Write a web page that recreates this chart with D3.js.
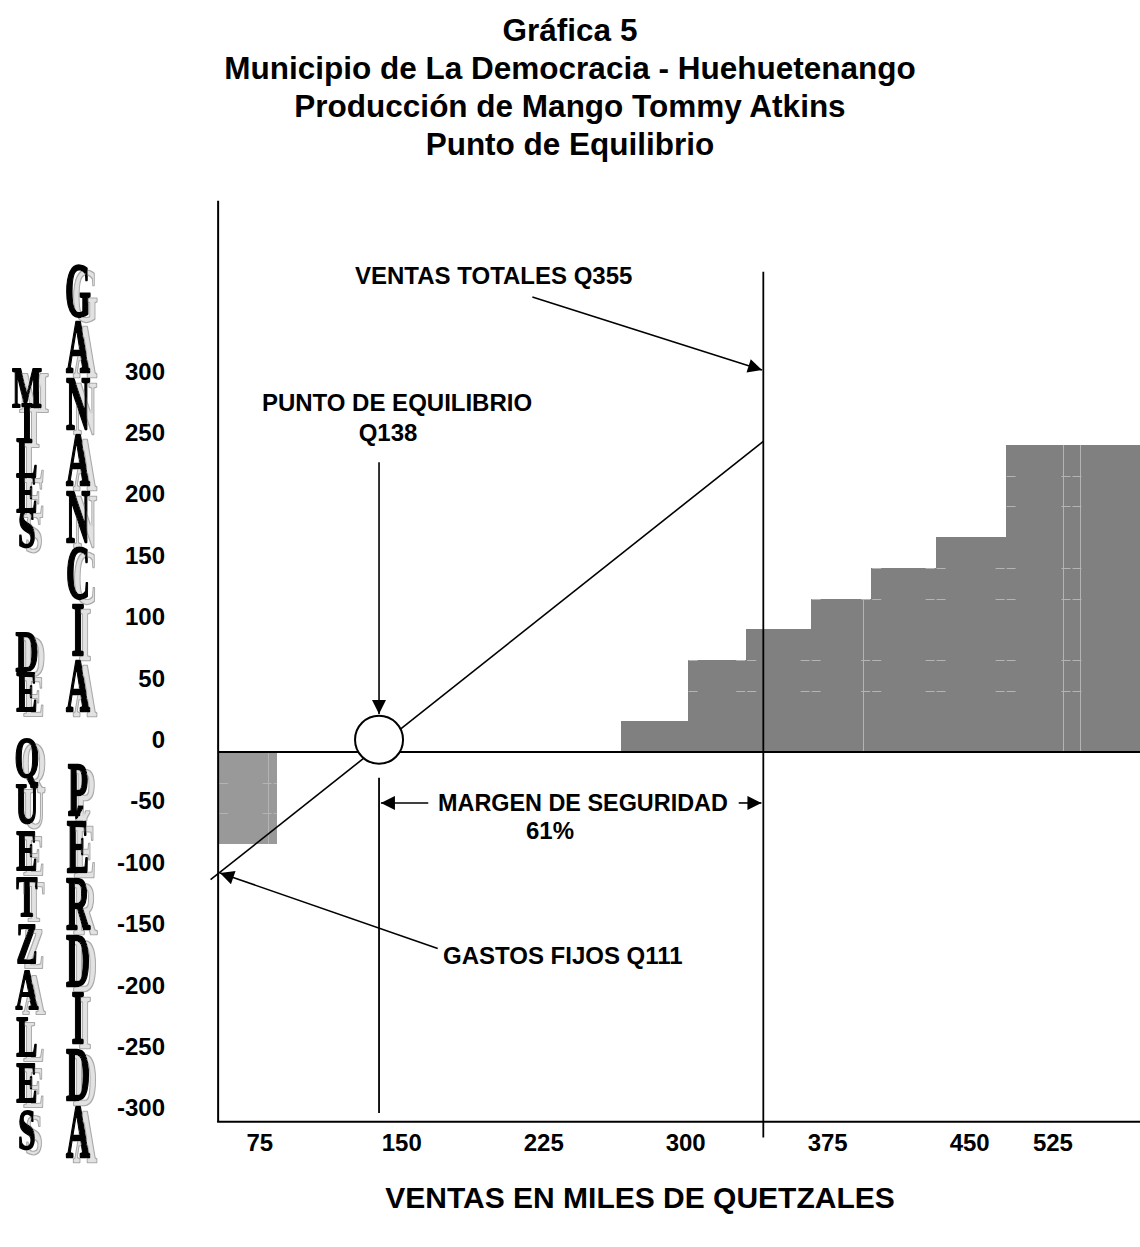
<!DOCTYPE html>
<html><head><meta charset="utf-8">
<script src="https://cdn.jsdelivr.net/npm/d3@7"></script>
<style>body{margin:0;background:#fff} svg{display:block}</style>
</head><body>
<script>
// ---------- data ----------
const titleLines = ["Gráfica 5", "Municipio de La Democracia - Huehuetenango", "Producción de Mango Tommy Atkins", "Punto de Equilibrio"];
const yTicks = [300, 250, 200, 150, 100, 50, 0, -50, -100, -150, -200, -250, -300];
const xTicks = [75, 150, 225, 300, 375, 450, 525];
const xTickPos = [75, 150, 225, 300, 375, 450, 494];   // where each label sits on the drawing
const profitStart = [266, 301, 332, 366, 398, 432, 469];
const profitEnd   = [301, 332, 366, 398, 432, 469, 540];
const profitValue = [25, 75, 100, 125, 150, 175, 250];
const lossStart = [53];
const lossEnd   = [84];
const lossValue = [-75];
const ghostGridValues = [225, 200, 150, 125, 75, 50, -25, -50];
const ghostVerticals = [[393.7, 125], [499.3, 250], [508.3, 250], [79.3, -75]];
const breakEvenX = 138;      // Q138
const breakEvenY = 10;
const salesX = 341;          // line labelled Q355 (position as read)
const costLineX = [49, 341];
const costLineY = [-104, 253];
const xMin = 53, xMax = 540, yTopAxis = 449, yBottom = -301;
const xAxisTitle = "VENTAS EN MILES DE QUETZALES";
const leftWords1 = ["MILES", "DE", "QUETZALES"];
const leftWords2 = ["GANANCIA", "PÉRDIDA"];

// ---------- setup ----------
const W = 1140, H = 1247;
const svg = d3.select("body").append("svg").attr("width", W).attr("height", H)
  .style("font-family", "'Liberation Sans', Arial, sans-serif");
const x = d3.scaleLinear().domain([0, 600]).range([117.8, 117.8 + 600 * 1.893]);
const y = d3.scaleLinear().domain([-300, 300]).range([752 + 300 * 1.228, 752 - 300 * 1.228]);
const X = v => Math.round(x(v));

const defs = svg.append("defs");
defs.append("marker").attr("id", "ah").attr("viewBox", "0 0 10 10")
  .attr("refX", 10).attr("refY", 5).attr("markerUnits", "userSpaceOnUse")
  .attr("markerWidth", 18).attr("markerHeight", 14).attr("orient", "auto-start-reverse")
  .append("path").attr("d", "M0,0 L10,5 L0,10 z").attr("fill", "#000");
const flt = defs.append("filter").attr("id", "shadow")
  .attr("x", "-30%").attr("y", "-5%").attr("width", "170%").attr("height", "115%");
flt.append("feOffset").attr("in", "SourceAlpha").attr("dx", 7).attr("dy", 5).attr("result", "off");
flt.append("feMorphology").attr("in", "off").attr("operator", "erode").attr("radius", 0.8).attr("result", "inner");
flt.append("feFlood").attr("flood-color", "#a9a9a9").attr("result", "c1");
flt.append("feComposite").attr("in", "c1").attr("in2", "off").attr("operator", "in").attr("result", "edge");
flt.append("feFlood").attr("flood-color", "#e2e2e2").attr("result", "c2");
flt.append("feComposite").attr("in", "c2").attr("in2", "inner").attr("operator", "in").attr("result", "fill");
const fm = flt.append("feMerge");
fm.append("feMergeNode").attr("in", "edge");
fm.append("feMergeNode").attr("in", "fill");
fm.append("feMergeNode").attr("in", "SourceGraphic");

// all bar rectangles (shared for the clip of ghost gridlines)
const allBars = profitValue.map((v, i) => ({s: profitStart[i], e: profitEnd[i], v, c: "#808080"}))
  .concat(lossValue.map((v, i) => ({s: lossStart[i], e: lossEnd[i], v, c: "#999999"})));
const rectAttrs = sel => sel
  .attr("x", d => X(d.s)).attr("width", d => X(d.e) - X(d.s))
  .attr("y", d => Math.round(y(Math.max(0, d.v))))
  .attr("height", d => Math.round(Math.abs(y(d.v) - y(0))));
defs.append("clipPath").attr("id", "barclip").selectAll("rect").data(allBars).join("rect").call(rectAttrs);

// title
svg.append("g").selectAll("text").data(titleLines).join("text")
  .attr("x", 570).attr("y", (d, i) => 41 + i * 38)
  .attr("text-anchor", "middle").attr("font-weight", "bold").attr("font-size", 31.5)
  .text(d => d);

// bars
const g = svg.append("g");
g.selectAll("rect.bar").data(allBars).join("rect").attr("class", "bar").call(rectAttrs)
  .attr("fill", d => d.c).attr("shape-rendering", "crispEdges");

// faint ghost gridlines inside bars
const ghost = g.append("g").attr("clip-path", "url(#barclip)").attr("stroke", "#b4b4b4").attr("stroke-width", 1);
const bounds = profitStart.slice(1).concat([503.8, 53, 79.3 + 2.5]);
const segs = [];
bounds.forEach(b => ghostGridValues.forEach(v => segs.push({b, v})));
ghost.selectAll("line.h").data(segs).join("line").attr("class", "h")
  .attr("x1", d => x(d.b) - 10).attr("x2", d => x(d.b) + 10)
  .attr("y1", d => Math.round(y(d.v)) + 0.5).attr("y2", d => Math.round(y(d.v)) + 0.5)
  .attr("stroke-dasharray", "9,2");
ghost.selectAll("line.v").data(ghostVerticals).join("line").attr("class", "v")
  .attr("x1", d => Math.round(x(d[0])) + 0.5).attr("x2", d => Math.round(x(d[0])) + 0.5)
  .attr("y1", d => y(d[1])).attr("y2", y(0));

// axes lines
g.append("line").attr("x1", x(xMin)).attr("x2", x(xMin)).attr("y1", y(yTopAxis)).attr("y2", y(yBottom))
  .attr("stroke", "#000").attr("stroke-width", 2);
g.append("line").attr("x1", x(xMin) - 1).attr("x2", x(xMax)).attr("y1", y(yBottom)).attr("y2", y(yBottom))
  .attr("stroke", "#000").attr("stroke-width", 2);
g.append("line").attr("x1", x(xMin)).attr("x2", x(xMax)).attr("y1", y(0)).attr("y2", y(0))
  .attr("stroke", "#000").attr("stroke-width", 2);

// y tick labels
svg.append("g").selectAll("text").data(yTicks).join("text")
  .attr("x", 165).attr("y", d => y(d) - 4).attr("text-anchor", "end")
  .attr("font-weight", "bold").attr("font-size", 24).text(d => d);
// x tick labels
svg.append("g").selectAll("text").data(xTicks).join("text")
  .attr("x", (d, i) => x(xTickPos[i])).attr("y", 1151).attr("text-anchor", "middle")
  .attr("font-weight", "bold").attr("font-size", 24).text(d => d);
svg.append("text").attr("x", 640).attr("y", 1208).attr("text-anchor", "middle")
  .attr("font-weight", "bold").attr("font-size", 30).text(xAxisTitle);

// cost/revenue line
g.append("line").attr("x1", x(costLineX[0])).attr("y1", y(costLineY[0]))
  .attr("x2", x(costLineX[1])).attr("y2", y(costLineY[1]))
  .attr("stroke", "#000").attr("stroke-width", 1.6);
// vertical lines
g.append("line").attr("x1", x(salesX)).attr("x2", x(salesX)).attr("y1", y(391)).attr("y2", y(-314))
  .attr("stroke", "#000").attr("stroke-width", 1.8);
g.append("line").attr("x1", x(breakEvenX)).attr("x2", x(breakEvenX)).attr("y1", y(-21)).attr("y2", y(-294))
  .attr("stroke", "#000").attr("stroke-width", 1.8);
// circle
g.append("circle").attr("cx", x(breakEvenX)).attr("cy", y(breakEvenY)).attr("r", 24)
  .attr("fill", "#fff").attr("stroke", "#000").attr("stroke-width", 2);

// arrows
const arrows = [
  [[138, 236], [138, 31]],
  [[219, 370.5], [340.3, 311]],
  [[169, -160], [54, -98.5]],
  [[164, -41.5], [139, -41.5]],
  [[328, -41.5], [340, -41.5]]
];
g.selectAll("line.arr").data(arrows).join("line").attr("class", "arr")
  .attr("x1", d => x(d[0][0])).attr("y1", d => y(d[0][1]))
  .attr("x2", d => x(d[1][0])).attr("y2", d => y(d[1][1]))
  .attr("stroke", "#000").attr("stroke-width", 1.6).attr("marker-end", "url(#ah)");

// annotation texts
const notes = [
  {t: "VENTAS TOTALES Q355", x: 355, y: 284, a: "start", s: 24},
  {t: "PUNTO DE EQUILIBRIO", x: 397, y: 411, a: "middle", s: 24},
  {t: "Q138", x: 388, y: 441, a: "middle", s: 24},
  {t: "MARGEN DE SEGURIDAD", x: 438, y: 811, a: "start", s: 23.4},
  {t: "61%", x: 550, y: 839, a: "middle", s: 24},
  {t: "GASTOS FIJOS Q111", x: 443, y: 964, a: "start", s: 24}
];
svg.append("g").selectAll("text").data(notes).join("text")
  .attr("x", d => d.x).attr("y", d => d.y).attr("text-anchor", d => d.a)
  .attr("font-weight", "bold").attr("font-size", d => d.s).text(d => d.t);

// vertical stacked letters (WordArt style, with offset shadow)
function column(words, cx, tops, steps, fs, sx, sy) {
  const letters = [];
  words.forEach((w, wi) => {
    Array.from(w).forEach((ch, i) => letters.push({ch, top: tops[wi] + i * steps[wi]}));
  });
  const cap = fs * 0.66 * sy;
  const gg = svg.append("g").attr("filter", "url(#shadow)")
    .attr("font-family", "'Liberation Serif', 'DejaVu Serif', serif")
    .attr("font-weight", "bold").attr("font-size", fs).attr("text-anchor", "middle");
  gg.selectAll("text").data(letters).join("text")
    .attr("transform", d => `translate(${cx},${d.top + cap}) scale(${sx},${sy})`)
    .attr("fill", "#000").attr("stroke", "#000").attr("stroke-width", 1.3)
    .attr("stroke-linejoin", "round").text(d => d.ch);
}
column(leftWords1, 27, [370, 634, 740], [35, 40, 46.5], 40, 0.8, 1.4);
column(leftWords2, 78, [265, 764], [56.5, 57], 44, 0.76, 1.75);
</script>
</body></html>
